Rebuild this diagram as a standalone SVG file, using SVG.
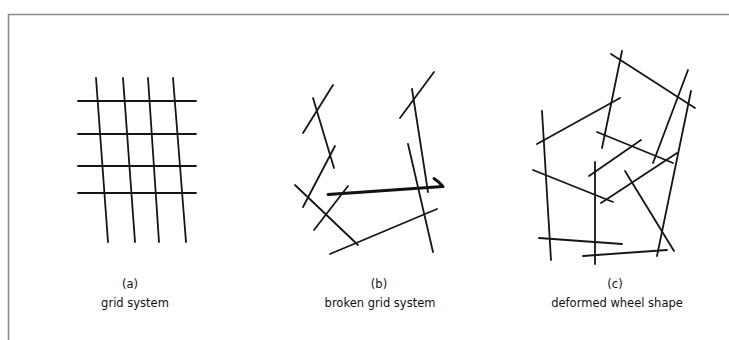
<svg xmlns="http://www.w3.org/2000/svg" width="729" height="340" viewBox="0 0 729 340">
<style>
.l{stroke:#151515;stroke-width:1.8;fill:none;stroke-linecap:round}
.t{font-family:"DejaVu Sans",sans-serif;font-size:11.5px;fill:#111;text-anchor:middle}
</style>
<rect width="729" height="340" fill="#fff"/>
<path d="M8.5 340 V14.5 H729" fill="none" stroke="#8a8a8a" stroke-width="1.6"/>
<g id="grid-system">
<line class="l" x1="78" y1="101" x2="196" y2="101"/>
<line class="l" x1="78" y1="134" x2="196" y2="134"/>
<line class="l" x1="78" y1="166" x2="196" y2="166"/>
<line class="l" x1="78" y1="193" x2="196" y2="193"/>
<line class="l" x1="96" y1="78" x2="108" y2="242"/>
<line class="l" x1="123" y1="78" x2="135" y2="242"/>
<line class="l" x1="148" y1="78" x2="159" y2="242"/>
<line class="l" x1="173" y1="78" x2="186" y2="242"/>
</g>
<g id="broken-grid-system">
<line class="l" x1="333" y1="85" x2="303" y2="133"/>
<line class="l" x1="313" y1="98" x2="334" y2="168"/>
<line class="l" x1="335" y1="146" x2="303" y2="207"/>
<line class="l" x1="295" y1="185" x2="358" y2="245"/>
<line class="l" x1="348" y1="186" x2="314" y2="230"/>
<line class="l" x1="330" y1="254" x2="437" y2="209"/>
<line class="l" x1="434" y1="72" x2="400" y2="118"/>
<line class="l" x1="412" y1="89" x2="428" y2="192"/>
<line class="l" x1="408" y1="144" x2="433" y2="252"/>
</g>
<g id="connectors">
<path d="M328 194.5 L443 186.5 M434 178.5 Q438 181 443 186.5" fill="none" stroke="#111" stroke-width="3" stroke-linecap="round"/>
</g>
<g id="deformed-wheel-shape">
<line class="l" x1="622" y1="51" x2="602" y2="148"/>
<line class="l" x1="611" y1="54" x2="695" y2="108"/>
<line class="l" x1="688" y1="70" x2="653" y2="163"/>
<line class="l" x1="691" y1="91" x2="657" y2="256"/>
<line class="l" x1="620" y1="98" x2="537" y2="144"/>
<line class="l" x1="597" y1="132" x2="673" y2="163"/>
<line class="l" x1="641" y1="140" x2="589" y2="176"/>
<line class="l" x1="677" y1="153" x2="601" y2="203"/>
<line class="l" x1="533" y1="170" x2="613" y2="202"/>
<line class="l" x1="542" y1="111" x2="551" y2="260"/>
<line class="l" x1="595" y1="162" x2="595" y2="264"/>
<line class="l" x1="625" y1="171" x2="674" y2="251"/>
<line class="l" x1="539" y1="238" x2="622" y2="244"/>
<line class="l" x1="583" y1="256" x2="667" y2="250"/>
</g>
<g id="labels">
<text class="t" x="130" y="288">(a)</text>
<text class="t" x="135" y="307">grid system</text>
<text class="t" x="379" y="288">(b)</text>
<text class="t" x="380" y="307">broken grid system</text>
<text class="t" x="615" y="288">(c)</text>
<text class="t" x="617" y="307">deformed wheel shape</text>
</g>
</svg>
